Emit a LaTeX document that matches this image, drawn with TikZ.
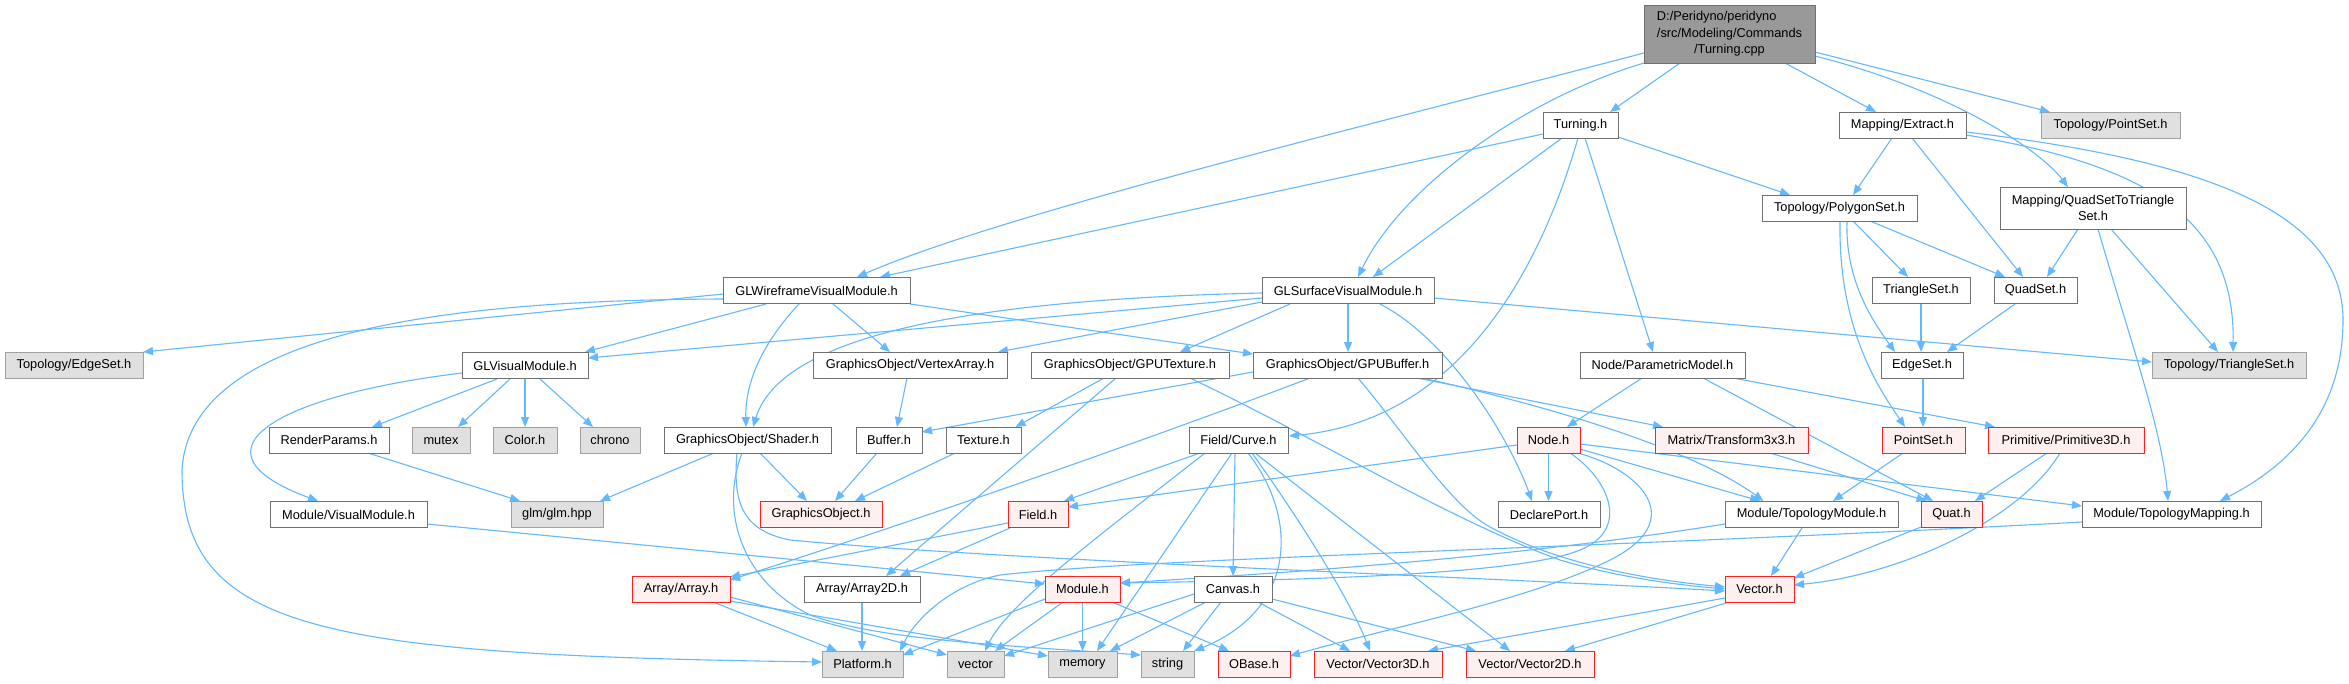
\documentclass[tikz,border=0pt]{standalone}
\usepackage{fontspec}
\setmainfont{Liberation Sans}
\usetikzlibrary{arrows.meta,calc}
\definecolor{edgec}{HTML}{63B8FF}
\definecolor{nborder}{HTML}{707070}
\definecolor{gborder}{HTML}{A0A0A0}
\definecolor{gfill}{HTML}{E0E0E0}
\definecolor{rfill}{HTML}{FFF0F0}
\definecolor{rborder}{HTML}{FF2020}
\definecolor{mainfill}{HTML}{999999}
\pgfdeclarelayer{edgelayer}
\pgfsetlayers{edgelayer,main}
\begin{document}
\begin{tikzpicture}[x=1pt,y=-1pt,
  nd/.style={draw=nborder, fill=white, line width=1pt, inner sep=0pt, minimum height=26pt,
             font=\fontsize{12.8}{16.3}\selectfont, anchor=center},
  gr/.style={nd, draw=gborder, fill=gfill},
  rd/.style={nd, draw=rborder, fill=rfill},
  e/.style={draw=edgec, line width=1.1pt, -{Triangle[length=10pt,width=8pt]}}]
\useasboundingbox (0,0) rectangle (2349,683);

% ---------- nodes ----------
\node[nd, fill=mainfill, minimum width=171pt, minimum height=58pt] (main) at (1729.5,34)
  {\begin{tabular}{@{}l@{}}D:/Peridyno/peridyno\\/src/Modeling/Commands\\\multicolumn{1}{@{}c@{}}{/Turning.cpp}\end{tabular}};
\node[nd, minimum width=75pt] (turningh) at (1580.5,125) {Turning.h};
\node[nd, minimum width=127pt] (extract) at (1902.5,125) {Mapping/Extract.h};
\node[gr, minimum width=139pt] (pointsetT) at (2110.5,125) {Topology/PointSet.h};
\node[nd, minimum width=155pt] (polygon) at (1839.5,208) {Topology/PolygonSet.h};
\node[nd, minimum width=186pt, minimum height=42pt, align=center] (q2t) at (2093,208) {Mapping/QuadSetToTriangle\\Set.h};
\node[nd, minimum width=187pt] (glwire) at (816.5,290.5) {GLWireframeVisualModule.h};
\node[nd, minimum width=172pt] (glsurf) at (1348,290.5) {GLSurfaceVisualModule.h};
\node[nd, minimum width=98pt] (triset) at (1921,290.5) {TriangleSet.h};
\node[nd, minimum width=83pt] (quadset) at (2035.5,290.5) {QuadSet.h};
\node[gr, minimum width=138pt] (edgesetT) at (74,365.5) {Topology/EdgeSet.h};
\node[nd, minimum width=126pt] (glvis) at (525,365.5) {GLVisualModule.h};
\node[nd, minimum width=194pt] (vertexarray) at (910,365) {GraphicsObject/VertexArray.h};
\node[nd, minimum width=198pt] (gputex) at (1130,365) {GraphicsObject/GPUTexture.h};
\node[nd, minimum width=189pt] (gpubuf) at (1347.5,365) {GraphicsObject/GPUBuffer.h};
\node[nd, minimum width=165pt] (param) at (1662.5,365) {Node/ParametricModel.h};
\node[nd, minimum width=82pt] (edgeset) at (1922,365) {EdgeSet.h};
\node[gr, minimum width=154pt] (trisetT) at (2229,365) {Topology/TriangleSet.h};
\node[nd, minimum width=120pt] (renderparams) at (329,440) {RenderParams.h};
\node[gr, minimum width=58pt] (mutex) at (441,440) {mutex};
\node[gr, minimum width=64pt] (colorh) at (525,440) {Color.h};
\node[gr, minimum width=60pt] (chrono) at (610,440) {chrono};
\node[nd, minimum width=167pt] (shader) at (747.5,440) {GraphicsObject/Shader.h};
\node[nd, minimum width=66pt] (buffer) at (889,440) {Buffer.h};
\node[nd, minimum width=75pt] (texture) at (983.5,440) {Texture.h};
\node[nd, minimum width=99pt] (curve) at (1238.5,440) {Field/Curve.h};
\node[rd, minimum width=63pt] (nodeh) at (1548.5,440) {Node.h};
\node[rd, minimum width=153pt] (matrix) at (1731.5,440) {Matrix/Transform3x3.h};
\node[rd, minimum width=83pt] (pointset) at (1923.5,440) {PointSet.h};
\node[rd, minimum width=156pt] (prim) at (2066,440) {Primitive/Primitive3D.h};
\node[nd, minimum width=157pt] (visualmodule) at (348.5,514.5) {Module/VisualModule.h};
\node[gr, minimum width=92pt] (glm) at (557,514.5) {glm/glm.hpp};
\node[rd, minimum width=122pt] (gobj) at (821,514.5) {GraphicsObject.h};
\node[rd, minimum width=60pt] (fieldh) at (1038,514.5) {Field.h};
\node[nd, minimum width=102pt] (declare) at (1549,514.5) {DeclarePort.h};
\node[nd, minimum width=173pt] (topomodule) at (1811.5,514.5) {Module/TopologyModule.h};
\node[rd, minimum width=61pt] (quat) at (1951.5,514.5) {Quat.h};
\node[nd, minimum width=179pt] (topomap) at (2171.5,514.5) {Module/TopologyMapping.h};
\node[rd, minimum width=98pt] (array) at (681,589) {Array/Array.h};
\node[nd, minimum width=116pt] (array2d) at (862,589) {Array/Array2D.h};
\node[rd, minimum width=75pt] (moduleh) at (1082.5,589) {Module.h};
\node[nd, minimum width=78pt] (canvas) at (1233,589) {Canvas.h};
\node[rd, minimum width=69pt] (vectorh) at (1759.5,589) {Vector.h};
\node[gr, minimum width=81pt] (platform) at (862.5,664) {Platform.h};
\node[gr, minimum width=57pt] (vector) at (975.5,664) {vector};
\node[gr, minimum width=69pt] (memory) at (1082.5,664) {memory};
\node[gr, minimum width=53pt] (string) at (1167.5,664) {string};
\node[rd, minimum width=72pt] (obase) at (1254,664) {OBase.h};
\node[rd, minimum width=128pt] (vec3d) at (1378,664) {Vector/Vector3D.h};
\node[rd, minimum width=128pt] (vec2d) at (1530,664) {Vector/Vector2D.h};

% ---------- edges ----------
\begin{pgfonlayer}{edgelayer}
\fill[white] (0,0) rectangle (2349,683);
\draw[e] ($(main)+(-49.5,29)$) -- ($(turningh)+(29.5,-13)$);
\draw[e] ($(main)+(55.5,29)$) -- ($(extract)+(-26.5,-13)$);
\draw[e] ($(main)+(85.5,18)$) -- ($(pointsetT)+(-60.5,-13)$);
\draw[e] ($(main)+(85.5,22)$) .. controls (1950,90) and (2040,150) .. ($(q2t)+(-25,-21)$);
\draw[e] ($(main)+(-85.5,19)$) .. controls (1350,130) and (1000,215) .. ($(glwire)+(40.5,-13.5)$);
\draw[e] ($(main)+(-85.5,29)$) .. controls (1520,100) and (1400,190) .. ($(glsurf)+(10,-13.5)$);

\draw[e] ($(turningh)+(-37.5,9)$) -- ($(glwire)+(63.5,-13.5)$);
\draw[e] ($(turningh)+(-18.5,13)$) -- ($(glsurf)+(25,-13.5)$);
\draw[e] ($(turningh)+(37.5,12)$) -- ($(polygon)+(-49.5,-13)$);
\draw[e] ($(turningh)+(4.5,13)$) -- ($(param)+(-9.5,-13)$);
\draw[e] ($(turningh)+(-2.5,13)$) .. controls (1540,270) and (1460,420) .. ($(curve)+(50.5,-4)$);

\draw[e] ($(extract)+(-10.5,13)$) -- ($(polygon)+(13.5,-13)$);
\draw[e] ($(extract)+(9.5,13)$) -- ($(quadset)+(-12.5,-13.5)$);
\draw[e] ($(extract)+(63.5,10)$) .. controls (2150,165) and (2235,220) .. ($(trisetT)+(4,-13)$);
\draw[e] ($(extract)+(63.5,7)$) .. controls (2200,160) and (2343,210) .. (2343,320) .. controls (2343,420) and (2280,470) .. ($(topomap)+(48.5,-13.5)$);

\draw[e] ($(q2t)+(-15,21)$) -- ($(quadset)+(11.5,-13.5)$);
\draw[e] ($(q2t)+(18,21)$) -- ($(trisetT)+(-11,-13)$);
\draw[e] ($(q2t)+(5,21)$) .. controls (2130,340) and (2162,430) .. ($(topomap)+(-3.5,-13.5)$);

\draw[e] ($(polygon)+(13.5,13)$) -- ($(triset)+(-13,-13.5)$);
\draw[e] ($(polygon)+(30.5,13)$) -- ($(quadset)+(-30.5,-13.5)$);
\draw[e] ($(polygon)+(7.5,13)$) .. controls (1845,280) and (1872,320) .. ($(edgeset)+(-27,-13)$);
\draw[e] ($(polygon)+(0.5,13)$) .. controls (1838,330) and (1880,390) .. ($(pointset)+(-18.5,-13)$);
\draw[e] ($(triset)+(0,13.5)$) -- ($(edgeset)+(-1,-13)$);
\draw[e] ($(quadset)+(-20.5,13.5)$) -- ($(edgeset)+(25,-13)$);
\draw[e] ($(edgeset)+(1,13)$) -- ($(pointset)+(-0.5,-13)$);
\draw[e] ($(pointset)+(-20.5,13)$) -- ($(topomodule)+(21.5,-13.5)$);
\draw[e] ($(prim)+(-19,13)$) -- ($(quat)+(23.5,-13.5)$);
\draw[e] ($(prim)+(-6,13)$) .. controls (2020,520) and (1900,575) .. ($(vectorh)+(34.5,-4)$);
\draw[e] ($(quat)+(-30.5,12.5)$) -- ($(vectorh)+(34.5,-11)$);
\draw[e] ($(topomodule)+(-9.5,13.5)$) -- ($(vectorh)+(11.5,-13)$);

\draw[e] ($(param)+(-20.5,13)$) -- ($(nodeh)+(18.5,-13)$);
\draw[e] ($(param)+(40.5,13)$) -- ($(quat)+(-18.5,-13.5)$);
\draw[e] ($(param)+(70.5,13)$) -- ($(prim)+(-71,-13)$);
\draw[e] ($(matrix)+(38.5,13)$) -- ($(quat)+(-25,-13.5)$);

\draw[e] ($(nodeh)+(0,13)$) -- ($(declare)+(-0.5,-13.5)$);
\draw[e] ($(glsurf)+(32,13.5)$) .. controls (1450,340) and (1510,440) .. ($(declare)+(-17,-13.5)$);
\draw[e] ($(nodeh)+(-31.5,5)$) -- ($(fieldh)+(30,-7.5)$);
\draw[e] ($(curve)+(-38.5,13)$) -- ($(fieldh)+(26,-13.5)$);
\draw[e] ($(nodeh)+(31.5,9)$) -- ($(topomodule)+(-51.5,-13.5)$);
\draw[e] ($(nodeh)+(31.5,4)$) -- ($(topomap)+(-89.5,-8.5)$);
\draw[e] ($(nodeh)+(21.5,13)$) .. controls (1610,480) and (1630,530) .. (1580,550) .. controls (1520,575) and (1300,580) .. ($(moduleh)+(37.5,-6)$);
\draw[e] ($(nodeh)+(29.5,13)$) .. controls (1640,470) and (1690,520) .. (1610,560) .. controls (1530,600) and (1380,630) .. ($(obase)+(36,-8)$);

\draw[e] ($(gpubuf)+(69.5,13)$) -- ($(matrix)+(-68.5,-13)$);
\draw[e] ($(gpubuf)+(74.5,13)$) .. controls (1500,395) and (1680,440) .. ($(topomodule)+(-48,-13.5)$);
\draw[e] ($(gpubuf)+(10.5,13)$) .. controls (1410,440) and (1450,505) .. (1490,527) .. controls (1560,565) and (1650,580) .. ($(vectorh)+(-34.5,-2)$);
\draw[e] ($(gputex)+(60,13)$) .. controls (1320,440) and (1450,520) .. (1560,560) .. controls (1620,578) and (1680,585) .. ($(vectorh)+(-34.5,0)$);
\draw[e] ($(shader)+(-10.5,13)$) .. controls (733,500) and (740,530) .. (790,540) .. controls (1000,560) and (1500,578) .. ($(vectorh)+(-34.5,2)$);
\draw[e] ($(shader)+(-5.5,13)$) .. controls (720,510) and (740,580) .. (810,615) .. controls (880,640) and (1000,645) .. ($(string)+(-26.5,-9)$);
\draw[e] ($(shader)+(-33.5,13)$) -- ($(glm)+(43,-13.5)$);
\draw[e] ($(shader)+(12.5,13)$) -- ($(gobj)+(-14,-13.5)$);
\draw[e] ($(buffer)+(-12,13)$) -- ($(gobj)+(14,-13.5)$);
\draw[e] ($(texture)+(-28.5,13)$) -- ($(gobj)+(34,-13.5)$);
\draw[e] ($(vertexarray)+(-3,13)$) -- ($(buffer)+(8,-13)$);
\draw[e] ($(gputex)+(-26,13)$) -- ($(texture)+(32,-13)$);
\draw[e] ($(gputex)+(-14,13)$) -- ($(array2d)+(24,-13)$);
\draw[e] ($(gpubuf)+(-94.5,7)$) -- ($(buffer)+(33,-8)$);
\draw[e] ($(gpubuf)+(-37.5,13)$) .. controls (1200,420) and (950,510) .. ($(array)+(49,-9)$);
\draw[e] ($(fieldh)+(-30,8.5)$) -- ($(array)+(49,-12)$);
\draw[e] ($(fieldh)+(-28,13.5)$) -- ($(array2d)+(38,-13)$);

\draw[e] ($(curve)+(-33.5,13)$) .. controls (1120,520) and (1010,600) .. ($(vector)+(9.5,-13)$);
\draw[e] ($(curve)+(-6.5,13)$) -- ($(memory)+(14.5,-13)$);
\draw[e] ($(curve)+(-3.5,13)$) -- ($(canvas)+(0,-13)$);
\draw[e] ($(curve)+(9.5,13)$) .. controls (1300,520) and (1295,610) .. ($(string)+(26.5,-13)$);
\draw[e] ($(curve)+(13.5,13)$) .. controls (1300,520) and (1350,600) .. ($(vec3d)+(-8,-13)$);
\draw[e] ($(curve)+(16.5,13)$) -- ($(vec2d)+(-20,-13)$);
\draw[e] ($(canvas)+(-39,5)$) -- ($(vector)+(28.5,-8)$);
\draw[e] ($(canvas)+(-27,13)$) -- ($(memory)+(27.5,-13)$);
\draw[e] ($(canvas)+(-12,13)$) -- ($(string)+(15.5,-13)$);
\draw[e] ($(canvas)+(25,13)$) -- ($(vec3d)+(-28,-13)$);
\draw[e] ($(canvas)+(39,10)$) -- ($(vec2d)+(-54,-13)$);
\draw[e] ($(moduleh)+(-37.5,10)$) -- ($(platform)+(40.5,-9)$);
\draw[e] ($(moduleh)+(-19.5,13)$) -- ($(vector)+(19.5,-13)$);
\draw[e] ($(moduleh)+(0,13)$) -- ($(memory)+(0,-13)$);
\draw[e] ($(moduleh)+(29.5,13)$) -- ($(obase)+(-25,-13)$);
\draw[e] ($(array)+(32,13)$) -- ($(platform)+(-25.5,-13)$);
\draw[e] ($(array)+(49,8)$) -- ($(vector)+(-28.5,-9)$);
\draw[e] ($(array)+(49,12)$) -- ($(memory)+(-34.5,-8)$);
\draw[e] ($(array2d)+(0,13)$) -- ($(platform)+(-0.5,-13)$);
\draw[e] ($(vectorh)+(-34.5,9)$) -- ($(vec3d)+(50,-13)$);
\draw[e] ($(vectorh)+(-30,13)$) -- ($(vec2d)+(35,-13)$);
\draw[e] ($(visualmodule)+(78.5,9.5)$) -- ($(moduleh)+(-37.5,-5)$);
\draw[e] ($(topomodule)+(-86.5,9.5)$) .. controls (1500,560) and (1250,575) .. ($(moduleh)+(37.5,-6)$);
\draw[e] ($(topomap)+(-89.5,7.5)$) .. controls (1600,548) and (1150,558) .. (1000,575) .. controls (950,585) and (915,620) .. ($(platform)+(37.5,-13)$);

\draw[e] ($(glwire)+(-93.5,3.5)$) -- ($(edgesetT)+(69,-13.5)$);
\draw[e] ($(glwire)+(-93.5,8.5)$) .. controls (450,300) and (190,330) .. (182,470) .. controls (182,630) and (320,655) .. ($(platform)+(-40.5,-2)$);
\draw[e] ($(glwire)+(-50.5,13.5)$) -- ($(glvis)+(60,-13.5)$);
\draw[e] ($(glwire)+(16.5,13.5)$) -- ($(vertexarray)+(-20,-13)$);
\draw[e] ($(glwire)+(-17.5,13.5)$) .. controls (765,340) and (745,380) .. ($(shader)+(-1.5,-13)$);
\draw[e] ($(glwire)+(93.5,13.5)$) -- ($(gpubuf)+(-94.5,-11)$);
\draw[e] ($(glsurf)+(-86,7.5)$) -- ($(glvis)+(63,-7.5)$);
\draw[e] ($(glsurf)+(-86,11.5)$) -- ($(vertexarray)+(88,-13)$);
\draw[e] ($(glsurf)+(-86,2.5)$) .. controls (950,300) and (780,340) .. ($(shader)+(5.5,-13)$);
\draw[e] ($(glsurf)+(-58,13.5)$) -- ($(gputex)+(50,-13)$);
\draw[e] ($(glsurf)+(0,13.5)$) -- ($(gpubuf)+(0.5,-13)$);
\draw[e] ($(glsurf)+(86,7.5)$) -- ($(trisetT)+(-77,-3)$);
\draw[e] ($(glvis)+(-28,13.5)$) -- ($(renderparams)+(43,-13)$);
\draw[e] ($(glvis)+(-15,13.5)$) -- ($(mutex)+(17,-13)$);
\draw[e] ($(glvis)+(0,13.5)$) -- ($(colorh)+(0,-13)$);
\draw[e] ($(glvis)+(15,13.5)$) -- ($(chrono)+(-17,-13)$);
\draw[e] ($(glvis)+(-63,7.5)$) .. controls (280,395) and (180,450) .. ($(visualmodule)+(-30.5,-13.5)$);
\draw[e] ($(renderparams)+(39,13)$) -- ($(glm)+(-37,-13.5)$);
\end{pgfonlayer}
\end{tikzpicture}
\end{document}
